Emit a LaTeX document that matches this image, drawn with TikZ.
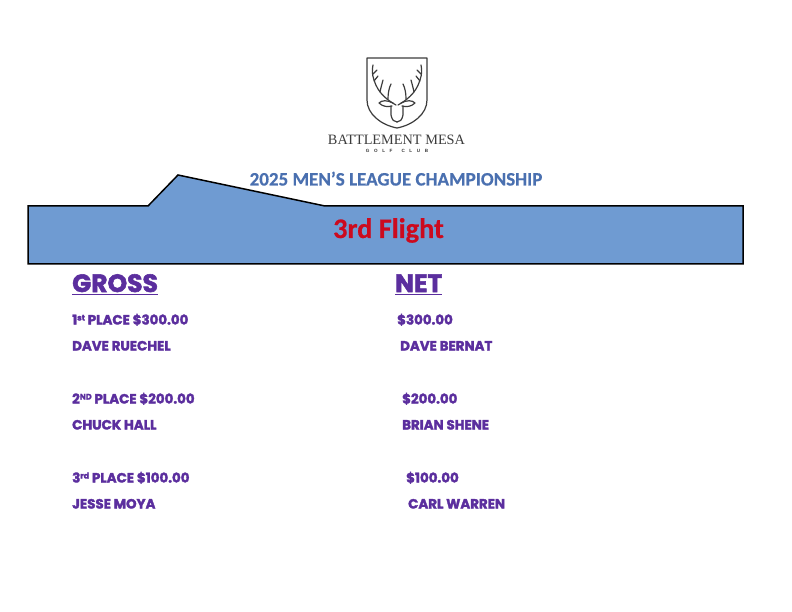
\documentclass[tikz,border=0pt]{standalone}
\usepackage{fontspec}
\setmainfont{Carlito}[BoldFeatures={FakeBold=0.5}]
\newfontfamily\heavy{Poppins}[UprightFont=* Bold,FakeBold=2.2]
\newfontfamily\logofont{Liberation Serif}
\newfontfamily\logosans{Liberation Sans}
\definecolor{bannerblue}{HTML}{6F9BD2}
\definecolor{titleblue}{HTML}{4A70B0}
\definecolor{flightred}{HTML}{CC0A1E}
\definecolor{leaguepurple}{HTML}{5B2E9E}
\definecolor{logogrey}{HTML}{3C3C3C}
\tikzset{
  x=1pt,y=-1pt,
  banner/.style={fill=bannerblue,draw=black,line width=1.5pt,line join=miter},
  headtext/.style={anchor=base west,inner sep=0pt,text=leaguepurple,font=\heavy\fontsize{25}{25}\selectfont},
  rowtext/.style={anchor=base west,inner sep=0pt,text=leaguepurple,font=\heavy\fontsize{13.4}{14}\selectfont},
  logoline/.style={draw=logogrey,line width=1.2pt,line cap=round,line join=round},
  rulep/.style={draw=leaguepurple,line width=.9pt}
}
\newcommand{\supr}[1]{\raisebox{4pt}{\fontsize{8}{8}\selectfont #1}}
\begin{document}
\begin{tikzpicture}
\useasboundingbox (0,0) rectangle (792,612);
\fill[white] (0,0) rectangle (792,612);
% logo
\draw[logoline] (367,58) -- (427,58) -- (427,100)
  .. controls (427,114) and (413,125) .. (397,128)
  .. controls (381,125) and (367,114) .. (367,100) -- cycle;
\foreach \s in {1,-1}{
 \begin{scope}[xshift=397pt,xscale=\s]
  \draw[logoline] (1,105) .. controls (8,101) and (19,94) .. (23,80) .. controls (25,74) and (25,70) .. (24,65);
  \draw[logoline] (24,74) -- (20,70);
  \draw[logoline] (23,81) -- (19,76);
  \draw[logoline] (17,92) .. controls (16,87) and (15,84) .. (14,80);
  \draw[logoline] (9,99) .. controls (9,93) and (8,88) .. (6,84);
  \draw[logoline] (4,103) .. controls (10,100) and (15,100) .. (18,103) .. controls (14,107) and (9,107) .. (5,106);
  \draw[logoline] (6,106) -- (6,115) .. controls (5,120) and (3,122) .. (0,122);
 \end{scope}
}
\node[anchor=base,inner sep=0pt,text=logogrey,font=\logofont\fontsize{14.3}{15}\selectfont] (brand) at (396.5,144.5) {BATTLEMENT MESA};
\node[anchor=base,inner sep=0pt,text=logogrey,font=\logosans\bfseries\fontsize{4.6}{5}\selectfont] (club) at (397,153) {G\hspace{4.6pt}O\hspace{4.6pt}L\hspace{4.6pt}F\hspace{9pt}C\hspace{4.6pt}L\hspace{4.6pt}U\hspace{4.6pt}B};
% title and banner
\node[anchor=base,inner sep=0pt,text=titleblue,font=\bfseries\fontsize{19}{20}\selectfont] (title) at (396,185.5) {2025 MEN’S LEAGUE CHAMPIONSHIP};
\draw[banner] (28,206) -- (148,206) -- (178,175) -- (325,206) -- (743,206) -- (743,264) -- (28,264) -- cycle;
\node[anchor=base,inner sep=0pt,text=flightred,font=\bfseries\fontsize{28.3}{29}\selectfont] (flight) at (388.5,238) {3rd Flight};
% columns
\node[headtext] (gross) at (72,292) {GROSS};
\node[headtext] (net) at (395,292) {NET};
\draw[rulep] (gross.base west)++(0,2.5) -- ++(86,0);
\draw[rulep] (net.base west)++(0,2.5) -- ++(47,0);
\node[rowtext] (g1) at (72,324.5) {1\supr{st} PLACE \$300.00};
\node[rowtext] (g1n) at (72,350.5) {DAVE RUECHEL};
\node[rowtext] (g2) at (72,403.5) {2\supr{ND} PLACE \$200.00};
\node[rowtext] (g2n) at (72,429.5) {CHUCK HALL};
\node[rowtext] (g3) at (72,482.5) {3\supr{rd} PLACE \$100.00};
\node[rowtext] (g3n) at (72,508.5) {JESSE MOYA};
\node[rowtext] (n1) at (397,324.5) {\$300.00};
\node[rowtext] (n1n) at (400,350.5) {DAVE BERNAT};
\node[rowtext] (n2) at (402,403.5) {\$200.00};
\node[rowtext] (n2n) at (402,429.5) {BRIAN SHENE};
\node[rowtext] (n3) at (406,482.5) {\$100.00};
\node[rowtext] (n3n) at (408,508.5) {CARL WARREN};
\end{tikzpicture}
\end{document}
